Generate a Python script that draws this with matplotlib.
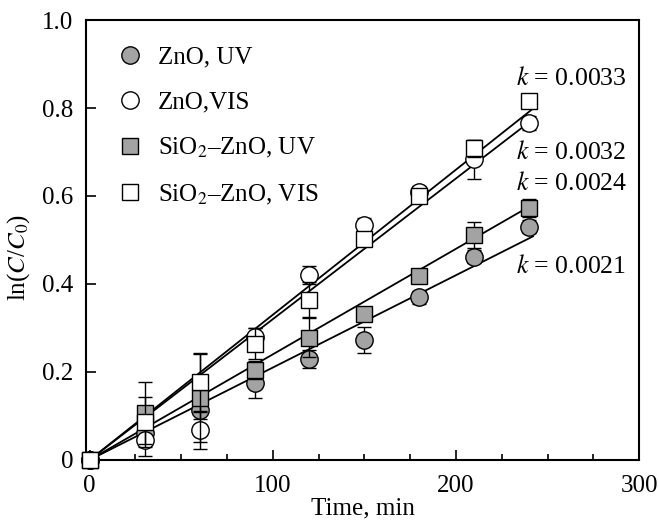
import numpy as np
import matplotlib
matplotlib.use('Agg')
import matplotlib.pyplot as plt
from matplotlib.ticker import MultipleLocator, FuncFormatter

plt.rcParams['font.family'] = ['Liberation Serif', 'DejaVu Serif']
plt.rcParams['mathtext.fontset'] = 'stix'

# tiempo de irradiación (min)
t = np.array([0, 30, 60, 90, 120, 150, 180, 210, 240])

# ln(C/C0)
zno_uv = np.array([0, 0.062, 0.114, 0.175, 0.229, 0.273, 0.370, 0.462, 0.530])
zno_vis = np.array([0, 0.045, 0.068, 0.280, 0.421, 0.535, 0.608, 0.683, 0.766])
sio2_uv = np.array([0, 0.107, 0.141, 0.204, 0.278, 0.331, 0.417, 0.511, 0.573])
sio2_vis = np.array([0, 0.087, 0.176, 0.264, 0.364, 0.503, 0.599, 0.708, 0.817])

zno_uv_err = np.array([0, 0.02, 0.02, 0.035, 0.02, 0.03, 0.015, 0.015, 0.015])
zno_vis_err = np.array([0, 0.037, 0.043, 0.02, 0.02, 0.015, 0.015, 0.045, 0.015])
sio2_uv_err = np.array([0, 0.07, 0.10, 0.02, 0.045, 0.015, 0.015, 0.03, 0.02])
sio2_vis_err = np.array([0, 0.057, 0.068, 0.035, 0.04, 0.015, 0.015, 0.02, 0.015])

# constantes de velocidad
k_vals = [0.0021, 0.0032, 0.0024, 0.0033]
k_labels = ['0.0021', '0.0032', '0.0024', '0.0033']
k_label_pos = [(233, 0.440), (233, 0.70), (233, 0.628), (233, 0.868)]

fig = plt.figure(figsize=(6.59, 5.28), dpi=100)
ax = fig.add_axes([0.1305, 0.129, 0.8395, 0.833])

gris = '#a3a3a3'
series = [
    (zno_uv, zno_uv_err, 'o', gris, 'ZnO, UV'),
    (zno_vis, zno_vis_err, 'o', 'white', 'ZnO,VIS'),
    (sio2_uv, sio2_uv_err, 's', gris, 'SiO$_2$–ZnO, UV'),
    (sio2_vis, sio2_vis_err, 's', 'white', 'SiO$_2$–ZnO, VIS'),
]

# rectas de ajuste
tt = np.array([0, 242])
for k in k_vals:
    ax.plot(tt, k * tt, color='black', linewidth=1.3, zorder=2)

z = 3
for y, e, m, c, lab in series:
    ax.errorbar(t[1:], y[1:], yerr=e[1:], fmt='none', ecolor='black', elinewidth=1.0,
                capsize=5, capthick=1.0, zorder=z)
    ax.plot(t, y, linestyle='none', marker=m, markersize=12.5 if m == 'o' else 12,
            markerfacecolor=c, markeredgecolor='black', markeredgewidth=1.0,
            label=lab, zorder=z + 0.5, clip_on=False)
    z += 1

for (x, y), s in zip(k_label_pos, k_labels):
    ax.text(x, y, '$k$ = ' + s, fontsize=18.5, va='center', ha='left')

ax.set_xlim(-2, 300)
ax.set_ylim(0, 1.0)
ax.xaxis.set_major_locator(MultipleLocator(100))
ax.xaxis.set_minor_locator(MultipleLocator(25))
ax.yaxis.set_major_locator(MultipleLocator(0.2))
ax.yaxis.set_major_formatter(FuncFormatter(lambda v, p: '0' if abs(v) < 1e-9 else '%.1f' % v))
ax.tick_params(which='both', direction='in', labelsize=18, width=1.2)
ax.tick_params(which='major', length=7)
ax.tick_params(which='minor', length=4)
ax.tick_params(axis='x', which='major', pad=11)
ax.tick_params(axis='y', which='major', pad=9)
for sp in ax.spines.values():
    sp.set_linewidth(1.5)

ax.set_xlabel('Time, min', fontsize=18, labelpad=0)
ax.set_ylabel('ln($C$/$C_0$)', fontsize=18)
ax.yaxis.set_label_coords(-0.098, 0.46)

ax.legend(loc='upper left', bbox_to_anchor=(0.03, 0.975), frameon=False, fontsize=18,
          labelspacing=0.9, handletextpad=0.6, handlelength=1.0, borderaxespad=0.2)

fig.savefig('out.png', dpi=100)
